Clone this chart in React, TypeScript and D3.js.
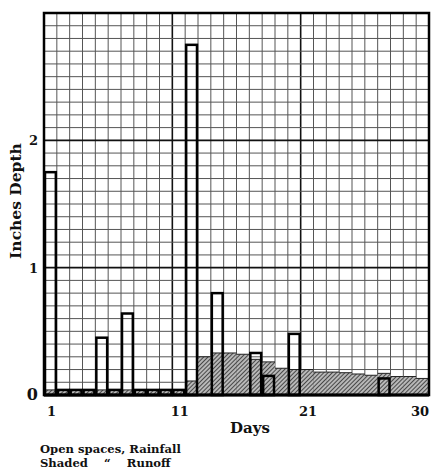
import React from "react";
import * as d3 from "d3";

const days: number[] = d3.range(1, 31);
const rainfall: number[] = [
  1.75, 0.04, 0.04, 0.04, 0.45, 0.04, 0.64, 0.04, 0.04, 0.04,
  0.04, 2.75, 0, 0.8, 0, 0, 0.33, 0.15, 0, 0.48,
  0, 0, 0, 0, 0, 0, 0.13, 0, 0, 0,
];
const runoff: number[] = [
  0.04, 0.04, 0.04, 0.04, 0.04, 0.04, 0.04, 0.04, 0.04, 0.04,
  0.04, 0.11, 0.3, 0.33, 0.33, 0.32, 0.28, 0.26, 0.21, 0.2,
  0.2, 0.18, 0.18, 0.175, 0.165, 0.155, 0.17, 0.145, 0.145, 0.13,
];
const xTickDays: number[] = [1, 11, 21, 30];
const yTicks: number[] = [0, 1, 2];
const legendLines: string[] = ["Open spaces, Rainfall", "Shaded    \u201C    Runoff"];

const W = 431;
const H = 470;
const left = 44, right = 429, top = 13, bottom = 395;
const FONT = "'DejaVu Serif', 'Liberation Serif', serif";

export default function App() {
  const x = d3.scaleLinear().domain([0, 30]).range([left, right]);
  const y = d3.scaleLinear().domain([0, 3]).range([bottom, top]);
  const vLines = d3.range(0, 31);
  const hLines = d3.range(0, 31).map((i) => i / 10);

  return (
    <svg
      width={W}
      height={H}
      style={{ position: "absolute", left: 0, top: 0, background: "#fff" }}
    >
      <defs>
        <pattern id="hatch" width="3" height="3" patternUnits="userSpaceOnUse" patternTransform="rotate(45)">
          <rect width="3" height="3" fill="#b8b8b8" />
          <line x1="0" y1="0" x2="0" y2="3" stroke="#222" strokeWidth="1.5" />
        </pattern>
      </defs>
      <rect x={0} y={0} width={W} height={H} fill="#fff" />
      {/* grid */}
      {vLines.map((i) => (
        <line
          key={"v" + i}
          x1={x(i)} x2={x(i)} y1={y(3)} y2={y(0)}
          stroke={i % 10 === 0 ? "#111" : "#555"}
          strokeWidth={i % 10 === 0 ? 1.6 : 1}
        />
      ))}
      {hLines.map((v, i) => (
        <line
          key={"h" + i}
          x1={x(0)} x2={x(30)} y1={y(v)} y2={y(v)}
          stroke={i % 10 === 0 ? "#111" : "#555"}
          strokeWidth={i % 10 === 0 ? 1.6 : 1}
        />
      ))}
      {/* runoff (shaded) */}
      {days.map((d, i) => (
        <g key={"r" + d}>
          <rect
            x={x(d - 1)} width={x(d) - x(d - 1)}
            y={y(runoff[i])} height={y(0) - y(runoff[i])}
            fill="url(#hatch)"
          />
          <line x1={x(d - 1)} x2={x(d)} y1={y(runoff[i])} y2={y(runoff[i])} stroke="#222" strokeWidth={1} />
        </g>
      ))}
      {/* rainfall (open) */}
      {days.map((d, i) =>
        rainfall[i] > 0 ? (
          <rect
            key={"b" + d}
            x={x(d - 1) + 1} width={x(d) - x(d - 1) - 2}
            y={y(rainfall[i])} height={y(0) - y(rainfall[i])}
            fill="none" stroke="#000" strokeWidth={2.5}
          />
        ) : null
      )}
      {/* frame */}
      <rect x={x(0)} y={y(3)} width={x(30) - x(0)} height={y(0) - y(3)} fill="none" stroke="#000" strokeWidth={2.5} />
      <line x1={x(0)} x2={x(30)} y1={y(0)} y2={y(0)} stroke="#000" strokeWidth={3} />
      {/* y tick labels */}
      {yTicks.map((t) => (
        <text key={"yt" + t} x={38} y={y(t) + 5} textAnchor="end" fontFamily={FONT} fontWeight="bold" fontSize={t === 0 ? 16 : 13} fill="#111">
          {t}
        </text>
      ))}
      {/* x tick labels */}
      {xTickDays.map((d) => (
        <text
          key={"xt" + d}
          x={d === 30 ? x(30) : x(d - 0.5) + 1}
          y={416}
          textAnchor={d === 30 ? "end" : "middle"}
          fontFamily={FONT} fontWeight="bold" fontSize={13} fill="#111"
        >
          {d}
        </text>
      ))}
      <text x={250} y={433} textAnchor="middle" fontFamily={FONT} fontWeight="bold" fontSize={15} fill="#111">
        Days
      </text>
      <text
        transform={`translate(21, 201) rotate(-90)`}
        textAnchor="middle" fontFamily={FONT} fontWeight="bold" fontSize={15.5} fill="#111"
      >
        Inches Depth
      </text>
      {legendLines.map((s, i) => (
        <text key={"lg" + i} x={40} y={453 + i * 14} fontFamily={FONT} fontWeight="bold" fontSize={11.6} fill="#111" style={{ whiteSpace: "pre" }}>
          {s}
        </text>
      ))}
    </svg>
  );
}
